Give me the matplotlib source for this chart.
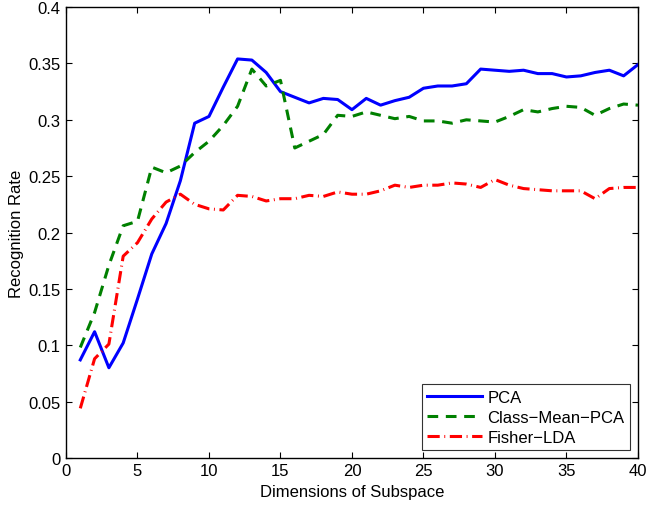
import matplotlib
matplotlib.use("Agg")
import matplotlib.pyplot as plt

dims = list(range(1, 41))
pca = [0.087, 0.112, 0.080, 0.102, 0.141, 0.181, 0.208, 0.246, 0.297, 0.303,
       0.329, 0.354, 0.353, 0.342, 0.325, 0.320, 0.315, 0.319, 0.318, 0.309,
       0.319, 0.313, 0.317, 0.320, 0.328, 0.330, 0.330, 0.332, 0.345, 0.344,
       0.343, 0.344, 0.341, 0.341, 0.338, 0.339, 0.342, 0.344, 0.339, 0.349]
cm_pca = [0.098, 0.129, 0.171, 0.206, 0.210, 0.258, 0.253, 0.259, 0.271, 0.281,
          0.295, 0.312, 0.345, 0.330, 0.335, 0.275, 0.281, 0.287, 0.304, 0.303,
          0.307, 0.304, 0.301, 0.303, 0.299, 0.299, 0.297, 0.300, 0.299, 0.298,
          0.303, 0.309, 0.307, 0.310, 0.312, 0.311, 0.304, 0.310, 0.314, 0.313]
lda = [0.044, 0.088, 0.101, 0.179, 0.191, 0.212, 0.227, 0.234, 0.225, 0.221,
       0.220, 0.233, 0.232, 0.228, 0.230, 0.230, 0.233, 0.232, 0.236, 0.234,
       0.234, 0.237, 0.242, 0.240, 0.242, 0.242, 0.244, 0.243, 0.240, 0.247,
       0.242, 0.239, 0.238, 0.237, 0.237, 0.237, 0.230, 0.239, 0.240, 0.240]
labels = ['PCA', 'Class\u2212Mean\u2212PCA', 'Fisher\u2212LDA']

plt.rcParams['font.family'] = ['Liberation Sans', 'DejaVu Sans']
fig = plt.figure(figsize=(6.47, 5.06), dpi=100)
ax = fig.add_axes([0.102, 0.093, 0.884, 0.891])

ax.plot(dims, pca, color=(0, 0, 1), lw=2.2, ls='-', label=labels[0])
ax.plot(dims, cm_pca, color=(0, 0.5, 0), lw=2.2, ls=(0, (3.5, 2.5)), label=labels[1])
ax.plot(dims, lda, color=(1, 0, 0), lw=2.2, ls=(0, (4, 1.5, 0.3, 1.5)), label=labels[2])

ax.set_xlim(0, 40)
ax.set_ylim(0, 0.4)
ax.set_xticks(range(0, 41, 5))
ax.set_yticks([0, 0.05, 0.1, 0.15, 0.2, 0.25, 0.3, 0.35, 0.4])
ax.set_yticklabels(['0', '0.05', '0.1', '0.15', '0.2', '0.25', '0.3', '0.35', '0.4'])
ax.tick_params(direction='in', top=True, right=True, labelsize=12, length=4, width=0.8, pad=4)
for s in ax.spines.values():
    s.set_linewidth(1.0)
ax.set_xlabel('Dimensions of Subspace', fontsize=12, labelpad=4)
ax.set_ylabel('Recognition Rate', fontsize=12, labelpad=3)

leg = ax.legend(loc='lower right', fontsize=12, frameon=True, fancybox=False,
                edgecolor='black', borderaxespad=0.45, handlelength=3.3,
                handletextpad=0.3, labelspacing=0.3, borderpad=0.35)
leg.get_frame().set_linewidth(0.8)

fig.savefig('out.png', dpi=100)
